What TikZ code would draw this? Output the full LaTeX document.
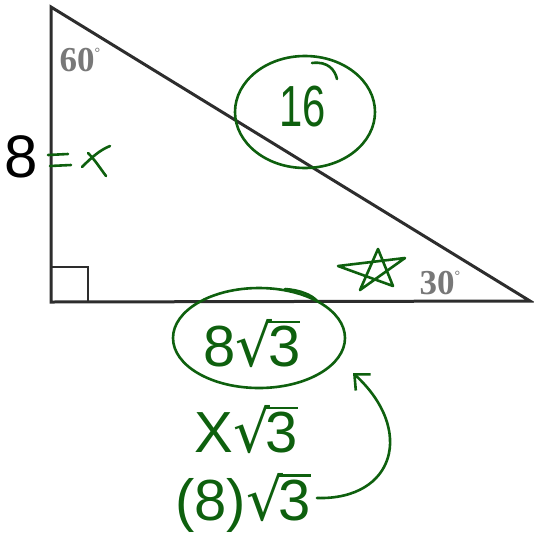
\documentclass[tikz,border=0pt]{standalone}
\usepackage{fontspec}
\setmainfont{Liberation Serif}
\newfontfamily\armsans{Liberation Sans}
\newfontfamily\dvsans{DejaVu Sans}
\usetikzlibrary{arrows.meta}
\definecolor{ink}{RGB}{14,96,14}
\definecolor{tri}{RGB}{45,45,45}
\definecolor{deg}{RGB}{120,120,120}
\newcommand\hroot[1]{{\dvsans √}\kern-0.08em\vbox{\hrule height 2.6pt \kern 3pt \hbox{#1}}}
\tikzset{
  side/.style={draw=tri, line width=3pt, line join=miter},
  hand/.style={draw=ink, line width=2.6pt, line cap=round, line join=round},
  handtext/.style={text=ink, font=\armsans\fontsize{58}{60}\selectfont, inner sep=0pt},
  degtext/.style={text=deg, font=\bfseries\fontsize{35}{36}\selectfont, inner sep=0pt},
}
\begin{document}
\begin{tikzpicture}[x=1pt,y=-1pt]
\useasboundingbox (0,0) rectangle (534,533);
% triangle
\coordinate (A) at (51,7);
\coordinate (B) at (51,302);
\coordinate (C) at (530,301);
\draw[side] (A) -- (B) -- (C) -- cycle;
\draw[draw=tri, line width=2.5pt] (51,267) -- (88,267) -- (88,302);
% angle labels
\node[degtext] (d60) at (80,60) {60\raisebox{0.42em}{\fontsize{14}{14}\selectfont\textdegree}};
\node[degtext] (d30) at (440,283) {30\raisebox{0.42em}{\fontsize{14}{14}\selectfont\textdegree}};
% 8 = x
\node[inner sep=0pt, font=\armsans\fontsize{60}{60}\selectfont] (eight) at (21,157) {8};
\draw[hand] (48,155) -- (68,154);
\draw[hand] (50,166) -- (71,165);
\draw[hand] (82,167) .. controls (92,157) and (100,150) .. (110,146);
\draw[hand] (88,153) .. controls (95,160) and (100,168) .. (106,176);
% 16 circled
\node[handtext, xscale=0.72] (sixteen) at (303,107) {16};
\draw[hand] (305,112) ellipse [x radius=70, y radius=56];
\draw[hand] (312,63) .. controls (328,61) and (335,70) .. (337,79);
% star
\draw[hand] (378,249) -- (360,290) -- (405,258) -- (338,266) -- (393,286) -- cycle;
% 8 sqrt 3 circled
\node[handtext] (e83) at (252,344) {8\hroot{3}};
\draw[hand] (259,338) ellipse [x radius=86, y radius=50];
\draw[hand] (285,289) .. controls (300,290) and (312,295) .. (317,301);
% x sqrt 3
\node[handtext] (x3) at (246,430) {X\hroot{3}};
% (8) sqrt 3
\node[handtext] (p83) at (243,503) {(8)\hroot{3}};
% arrow
\coordinate (as) at (317,498);
\coordinate (ae) at (353,373);
\draw[hand, -{Straight Barb[length=12pt,width=22pt,line width=2.6pt]}] (as) .. controls (395,500) and (415,430) .. (ae);
\end{tikzpicture}
\end{document}
